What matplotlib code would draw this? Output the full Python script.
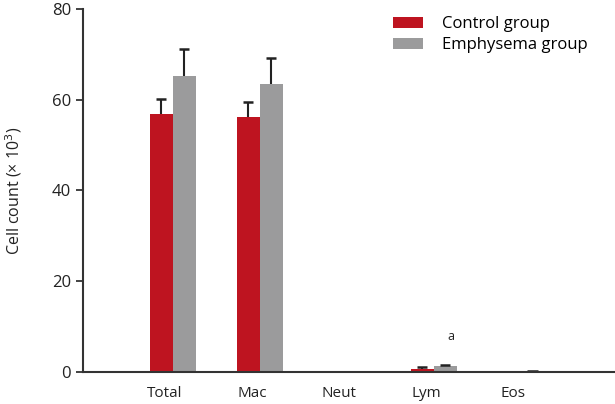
import numpy as np
import matplotlib.pyplot as plt

plt.rcParams['font.family'] = ['Open Sans', 'DejaVu Sans']

# data
categorias = ["Total", "Mac", "Neut", "Lym", "Eos"]
controle = [56.8, 56.2, 0.0, 0.7, 0.1]
controle_erro = [3.4, 3.3, 0.0, 0.4, 0.0]
enfisema = [65.2, 63.4, 0.0, 1.3, 0.1]
enfisema_erro = [5.9, 5.8, 0.0, 0.3, 0.15]

cor_controle = "#BE1420"
cor_enfisema = "#9B9B9C"
cor_texto = "#222222"

fig = plt.figure(figsize=(6.15, 4.04), dpi=100)
ax = fig.add_axes([0.135, 0.079, 0.865, 0.899])

x = np.arange(len(categorias))
w = 0.264
cap = 0.058

# barras + erro (so para cima)
for desloc, vals, errs, cor, nome in [(-w/2, controle, controle_erro, cor_controle, "Control group"),
                                      (w/2, enfisema, enfisema_erro, cor_enfisema, "Emphysema group")]:
    pos = x + desloc
    ax.bar(pos, vals, w, color=cor, label=nome)
    for p, v, e in zip(pos, vals, errs):
        if e > 0:
            ax.vlines(p, v, v + e, color=cor_texto, lw=1.5)
            ax.hlines(v + e, p - cap, p + cap, color=cor_texto, lw=1.8)

# significancia
ax.text(x[3] + w/2 + 0.06, 6.5, "a", ha="center", va="bottom", fontsize=9, color=cor_texto)

ax.set_xlim(-1.03, 5.08)
ax.set_ylim(0, 80)
ax.set_yticks([0, 20, 40, 60, 80])
ax.set_xticks(x - 0.09)
ax.set_xticklabels(categorias)
ax.tick_params(axis="x", length=0, pad=10, labelsize=11, colors=cor_texto)
ax.tick_params(axis="y", length=5, width=1.2, labelsize=12, colors=cor_texto)
ax.set_ylabel("Cell count (× 10$^3$)", fontsize=11.5, color=cor_texto, labelpad=20)

for s in ["top", "right"]:
    ax.spines[s].set_visible(False)
for s in ["left", "bottom"]:
    ax.spines[s].set_linewidth(1.5)
    ax.spines[s].set_color("#333333")

fig.legend(loc="upper left", bbox_to_anchor=(0.639, 0.96), frameon=False, fontsize=12,
           handlelength=1.8, handleheight=0.66, labelspacing=0.3, handletextpad=1.15,
           borderpad=0, borderaxespad=0)

fig.savefig("out.png", dpi=100)
